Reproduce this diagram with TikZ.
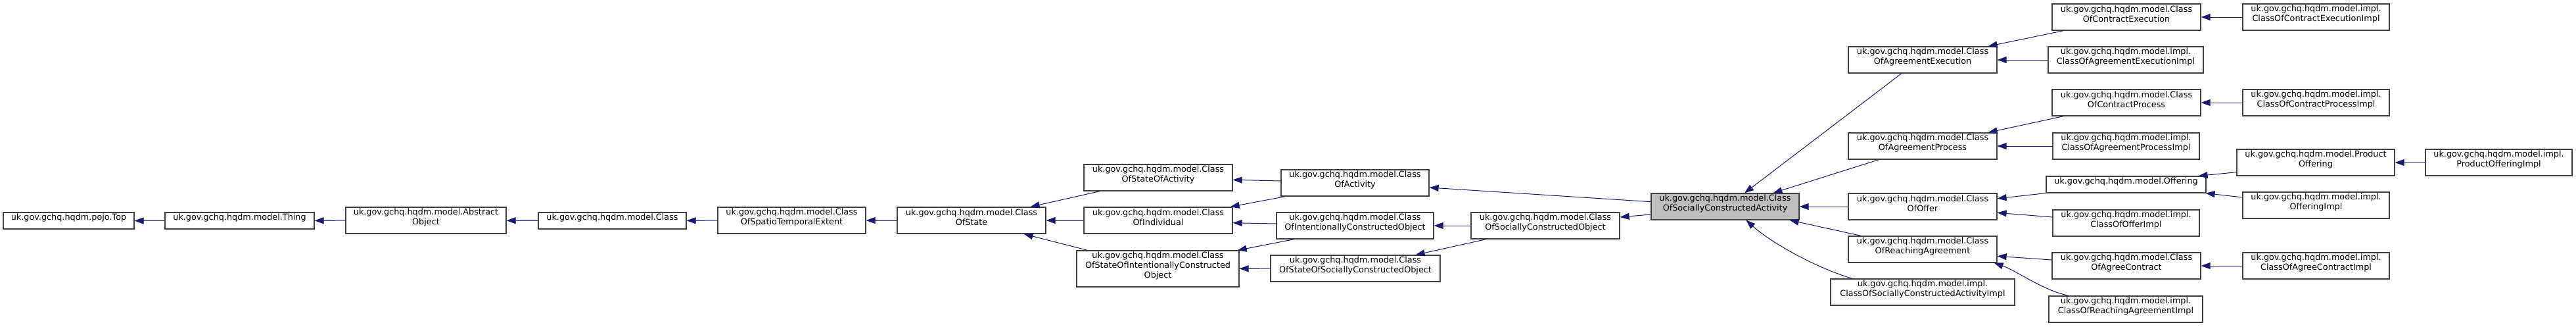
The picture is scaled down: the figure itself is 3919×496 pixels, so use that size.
\documentclass[tikz,border=0pt]{standalone}
\usepackage{fontspec}
\setmainfont{DejaVu Sans}
\usetikzlibrary{arrows.meta,fit,calc}
\definecolor{edgecol}{HTML}{191970}
\definecolor{bordercol}{HTML}{404040}
\definecolor{curfill}{HTML}{BFBFBF}
\begin{document}
\begin{tikzpicture}[x=1pt,y=-1pt,
  box/.style={draw=bordercol, line width=1.2pt, fill=white, inner sep=0pt, align=center, font=\fontsize{12.8}{15}\selectfont},
  cur/.style={box, fill=curfill},
  edge/.style={draw=edgecol, line width=1pt, -{Triangle[length=14pt,width=10pt]}}]
\useasboundingbox (0,0) rectangle (3919,496);
% nodes
\node[box, fit={(5,323) (204,348)}] (top) {uk.gov.gchq.hqdm.pojo.Top};
\node[box, fit={(251,323) (478,348)}] (thing) {uk.gov.gchq.hqdm.model.Thing};
\node[box, fit={(526,315) (770,355)}] (abs) {uk.gov.gchq.hqdm.model.Abstract\\Object};
\node[box, fit={(819,323) (1044,348)}] (cls) {uk.gov.gchq.hqdm.model.Class};
\node[box, fit={(1092,315) (1317,355)}] (ste) {uk.gov.gchq.hqdm.model.Class\\OfSpatioTemporalExtent};
\node[box, fit={(1365,315) (1591,355)}] (st) {uk.gov.gchq.hqdm.model.Class\\OfState};
\node[box, fit={(1649,250) (1875,290)}] (soa) {uk.gov.gchq.hqdm.model.Class\\OfStateOfActivity};
\node[box, fit={(1649,315) (1875,355)}] (ind) {uk.gov.gchq.hqdm.model.Class\\OfIndividual};
\node[box, fit={(1638,381) (1885,436)}] (sico) {uk.gov.gchq.hqdm.model.Class\\OfStateOfIntentionallyConstructed\\Object};
\node[box, fit={(1949,258) (2174,298)}] (act) {uk.gov.gchq.hqdm.model.Class\\OfActivity};
\node[box, fit={(1942,323) (2181,363)}] (ico) {uk.gov.gchq.hqdm.model.Class\\OfIntentionallyConstructedObject};
\node[box, fit={(1933,388) (2191,428)}] (ssco) {uk.gov.gchq.hqdm.model.Class\\OfStateOfSociallyConstructedObject};
\node[box, fit={(2238,323) (2464,363)}] (sco) {uk.gov.gchq.hqdm.model.Class\\OfSociallyConstructedObject};
\node[cur, fit={(2512,294) (2737,334)}] (sca) {uk.gov.gchq.hqdm.model.Class\\OfSociallyConstructedActivity};
\node[box, fit={(2812,71) (3038,111)}] (ae) {uk.gov.gchq.hqdm.model.Class\\OfAgreementExecution};
\node[box, fit={(2812,202) (3038,242)}] (ap) {uk.gov.gchq.hqdm.model.Class\\OfAgreementProcess};
\node[box, fit={(2812,294) (3038,334)}] (off) {uk.gov.gchq.hqdm.model.Class\\OfOffer};
\node[box, fit={(2812,359) (3038,399)}] (ra) {uk.gov.gchq.hqdm.model.Class\\OfReachingAgreement};
\node[box, fit={(2785,424) (3065,464)}] (scai) {uk.gov.gchq.hqdm.model.impl.\\ClassOfSociallyConstructedActivityImpl};
\node[box, fit={(3122,6) (3348,46)}] (ce) {uk.gov.gchq.hqdm.model.Class\\OfContractExecution};
\node[box, fit={(3116,71) (3352,111)}] (aei) {uk.gov.gchq.hqdm.model.impl.\\ClassOfAgreementExecutionImpl};
\node[box, fit={(3122,136) (3348,176)}] (cp) {uk.gov.gchq.hqdm.model.Class\\OfContractProcess};
\node[box, fit={(3123,202) (3346,242)}] (api) {uk.gov.gchq.hqdm.model.impl.\\ClassOfAgreementProcessImpl};
\node[box, fit={(3113,268) (3356,293)}] (offering) {uk.gov.gchq.hqdm.model.Offering};
\node[box, fit={(3123,319) (3346,359)}] (offi) {uk.gov.gchq.hqdm.model.impl.\\ClassOfOfferImpl};
\node[box, fit={(3122,384) (3348,424)}] (ac) {uk.gov.gchq.hqdm.model.Class\\OfAgreeContract};
\node[box, fit={(3117,450) (3351,490)}] (rai) {uk.gov.gchq.hqdm.model.impl.\\ClassOfReachingAgreementImpl};
\node[box, fit={(3412,6) (3635,46)}] (cei) {uk.gov.gchq.hqdm.model.impl.\\ClassOfContractExecutionImpl};
\node[box, fit={(3412,136) (3635,176)}] (cpi) {uk.gov.gchq.hqdm.model.impl.\\ClassOfContractProcessImpl};
\node[box, fit={(3403,227) (3643,267)}] (po) {uk.gov.gchq.hqdm.model.Product\\Offering};
\node[box, fit={(3412,292) (3635,332)}] (oi) {uk.gov.gchq.hqdm.model.impl.\\OfferingImpl};
\node[box, fit={(3412,384) (3635,424)}] (aci) {uk.gov.gchq.hqdm.model.impl.\\ClassOfAgreeContractImpl};
\node[box, fit={(3690,227) (3913,267)}] (poi) {uk.gov.gchq.hqdm.model.impl.\\ProductOfferingImpl};
% edges
\draw[edge] (thing) -- (top);
\draw[edge] (abs) -- (thing);
\draw[edge] (cls) -- (abs);
\draw[edge] (ste) -- (cls);
\draw[edge] (st) -- (ste);
\draw[edge] ($(soa.south west)+(25,0)$) -- ($(st.north east)+(-24,0)$);
\draw[edge] (ind) -- (st);
\draw[edge] ($(sico.north west)+(17,0)$) -- ($(st.south east)+(-34,0)$);
\draw[edge] ($(act.west)+(0,-3)$) -- ($(soa.east)+(0,3.3)$);
\draw[edge] ($(act.south west)+(7,0)$) -- ($(ind.north east)+(-4,0)$);
\draw[edge] ($(ico.west)+(0,-3)$) -- ($(ind.east)+(0,3.7)$);
\draw[edge] ($(ico.south west)+(27.6,0)$) -- ($(sico.north east)+(-3,0)$);
\draw[edge] (ssco) -- (sico);
\draw[edge] (sco) -- (ico);
\draw[edge] ($(sco.south west)+(23.6,0)$) -- ($(ssco.north east)+(-38,0)$);
\draw[edge] ($(sca.west)+(0,-7.3)$) -- ($(act.east)+(0,7)$);
\draw[edge] ($(sca.west)+(0,12)$) -- ($(sco.east)+(0,-13)$);
\draw[edge] ($(ae.south west)+(81.5,0)$) -- ($(sca.north west)+(142.6,0)$);
\draw[edge] ($(ap.south west)+(47,0)$) -- ($(sca.north west)+(186,0)$);
\draw[edge] (off) -- (sca);
\draw[edge] ($(ra.north west)+(20,0)$) -- ($(sca.south east)+(-15,0)$);
\draw[edge] ($(scai.north west)+(34,0)$) .. controls +(-50,-14) and +(40,36) .. ($(sca.south west)+(145,0)$);
\draw[edge] ($(ce.south west)+(18,0)$) -- ($(ae.north east)+(-14,0)$);
\draw[edge] (aei) -- (ae);
\draw[edge] ($(cp.south west)+(18,0)$) -- ($(ap.north east)+(-14,0)$);
\draw[edge] (api) -- (ap);
\draw[edge] (offering.south west) -- ($(off.east)+(0,-12.3)$);
\draw[edge] ($(offi.west)+(0,-9)$) -- ($(off.east)+(0,9.3)$);
\draw[edge] ($(ac.west)+(0,-9)$) -- ($(ra.east)+(0,10.3)$);
\draw[edge] ($(rai.north west)+(31,0)$) .. controls +(-40,-8) and +(35,12) .. ($(ra.south east)+(-5,0)$);
\draw[edge] (cei) -- (ce);
\draw[edge] (cpi) -- (cp);
\draw[edge] ($(po.west)+(0,14.7)$) -- ($(offering.north east)+(-12,0)$);
\draw[edge] ($(oi.west)+(0,-12)$) -- ($(offering.south east)+(-1,0)$);
\draw[edge] (aci) -- (ac);
\draw[edge] (poi) -- (po);
\end{tikzpicture}
\end{document}
